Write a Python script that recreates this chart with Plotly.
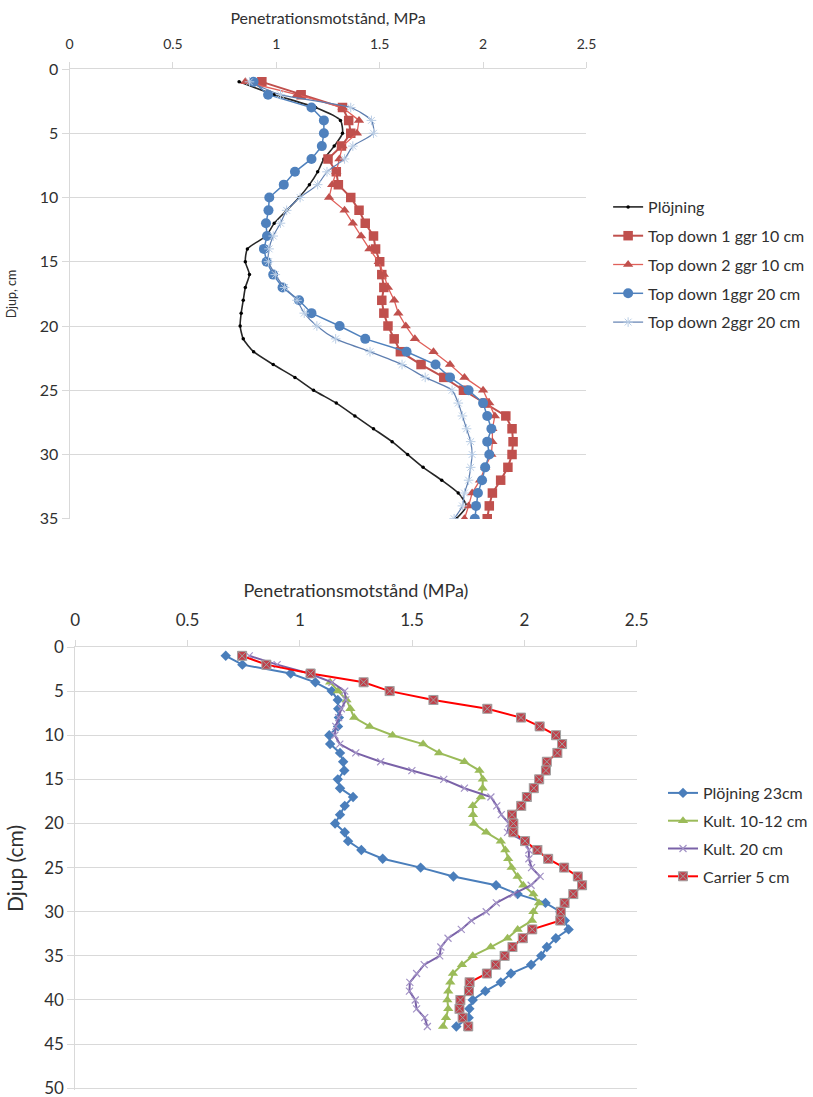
import plotly.graph_objects as go

# ---------- Top chart data ----------
depth_top = list(range(1, 36))
plojning = [0.82, 0.99, 1.19, 1.31, 1.32, 1.28, 1.23, 1.20, 1.16, 1.11, 1.05, 0.99, 0.95, 0.86, 0.85,
            0.87, 0.85, 0.84, 0.83, 0.825, 0.84, 0.89, 0.985, 1.09, 1.18, 1.29, 1.38, 1.47, 1.56, 1.635,
            1.71, 1.80, 1.88, 1.92, 1.87]
td1_10 = [0.93, 1.12, 1.32, 1.35, 1.36, 1.315, 1.25, 1.29, 1.30, 1.36, 1.40, 1.43, 1.47, 1.48, 1.50,
          1.51, 1.52, 1.51, 1.52, 1.54, 1.57, 1.60, 1.70, 1.81, 1.905, 2.01, 2.11, 2.14, 2.145, 2.14,
          2.12, 2.085, 2.045, 2.03, 2.02]
td2_10 = [0.85, 1.10, 1.32, 1.40, 1.39, 1.32, 1.305, 1.29, 1.27, 1.255, 1.33, 1.37, 1.41, 1.45, 1.495,
          1.52, 1.54, 1.57, 1.59, 1.626, 1.67, 1.76, 1.84, 1.91, 2.00, 2.03, 2.057, 2.045, 2.045, 2.04,
          2.01, 1.985, 1.947, 1.93, 1.91]
td1_20 = [0.89, 0.96, 1.17, 1.23, 1.23, 1.22, 1.17, 1.09, 1.036, 0.966, 0.962, 0.95, 0.955, 0.94, 0.953,
          0.985, 1.03, 1.11, 1.17, 1.306, 1.43, 1.63, 1.77, 1.84, 1.93, 2.00, 2.02, 2.04, 2.02, 2.03,
          2.01, 1.995, 1.975, 1.966, 1.96]
td2_20 = [0.87, 1.02, 1.36, 1.46, 1.47, 1.37, 1.33, 1.245, 1.20, 1.115, 1.05, 1.02, 0.985, 0.965, 0.962,
          0.995, 1.04, 1.10, 1.135, 1.196, 1.287, 1.453, 1.608, 1.72, 1.85, 1.88, 1.90, 1.92, 1.94, 1.947,
          1.94, 1.93, 1.91, 1.90, 1.86]

# ---------- Bottom chart data ----------
depth_bot = list(range(1, 44))
plojning23 = [0.67, 0.744, 0.959, 1.069, 1.142, 1.169, 1.171, 1.174, 1.17, 1.131, 1.135, 1.179, 1.193,
              1.198, 1.169, 1.179, 1.237, 1.20, 1.179, 1.157, 1.20, 1.215, 1.274, 1.369, 1.538, 1.684,
              1.874, 1.97, 2.094, 2.16, 2.18, 2.197, 2.14, 2.10, 2.075, 2.03, 1.94, 1.895, 1.826, 1.77,
              1.755, 1.752, 1.697]
depth_kult10 = list(range(4, 44))
kult10 = [1.135, 1.17, 1.208, 1.225, 1.242, 1.311, 1.413, 1.549, 1.62, 1.733, 1.80, 1.815, 1.814, 1.806,
          1.77, 1.771, 1.775, 1.83, 1.895, 1.915, 1.928, 1.943, 1.97, 1.995, 2.04, 2.065, 2.04, 2.034,
          1.97, 1.925, 1.85, 1.77, 1.722, 1.682, 1.67, 1.661, 1.657, 1.661, 1.651, 1.638]
kult20 = [0.775, 0.899, 1.042, 1.143, 1.20, 1.205, 1.185, 1.173, 1.16, 1.156, 1.178, 1.249, 1.36, 1.499,
          1.641, 1.733, 1.851, 1.877, 1.897, 1.932, 1.925, 2.0, 2.02, 2.02, 2.032, 2.07, 2.03, 1.95,
          1.875, 1.83, 1.764, 1.719, 1.66, 1.628, 1.623, 1.554, 1.52, 1.49, 1.488, 1.514, 1.52, 1.556,
          1.568]
carrier5 = [0.743, 0.851, 1.048, 1.284, 1.40, 1.595, 1.835, 1.985, 2.068, 2.141, 2.168, 2.147, 2.10,
            2.096, 2.066, 2.042, 2.011, 1.986, 1.945, 1.951, 1.951, 2.003, 2.058, 2.106, 2.177, 2.238,
            2.257, 2.218, 2.179, 2.162, 2.16, 2.035, 1.993, 1.947, 1.912, 1.872, 1.833, 1.756, 1.753,
            1.715, 1.711, 1.725, 1.75]

top_yticks = [0, 5, 10, 15, 20, 25, 30, 35]
bot_yticks = [0, 5, 10, 15, 20, 25, 30, 35, 40, 45, 50]
xticks = [0, 0.5, 1, 1.5, 2, 2.5]

FONT = "Lato"
TXT = "#303030"
GRID = "#d9d9d9"

fig = go.Figure()

# top chart traces
fig.add_trace(go.Scatter(x=plojning, y=depth_top, name="Plöjning", mode="lines+markers",
                         line=dict(color="#262626", width=1.6, shape="spline", smoothing=0.6),
                         marker=dict(symbol="circle", size=3.5, color="#000000"),
                         xaxis="x", yaxis="y", legend="legend", legendgroup="a1"))
fig.add_trace(go.Scatter(x=td1_10, y=depth_top, name="Top down 1 ggr 10 cm", mode="lines+markers",
                         line=dict(color="#c0504d", width=2),
                         marker=dict(symbol="square", size=9.5, color="#c0504d"),
                         xaxis="x", yaxis="y", legend="legend", legendgroup="a2"))
fig.add_trace(go.Scatter(x=td2_10, y=depth_top, name="Top down 2 ggr 10 cm", mode="lines+markers",
                         line=dict(color="#e0605a", width=1.3),
                         marker=dict(symbol="triangle-up", size=9, color="#c0504d"),
                         xaxis="x", yaxis="y", legend="legend", legendgroup="a3"))
fig.add_trace(go.Scatter(x=td1_20, y=depth_top, name="Top down 1ggr 20 cm", mode="lines+markers",
                         line=dict(color="#4f81bd", width=1.5),
                         marker=dict(symbol="circle", size=10, color="#4f81bd"),
                         xaxis="x", yaxis="y", legend="legend", legendgroup="a4"))
fig.add_trace(go.Scatter(x=td2_20, y=depth_top, name="Top down 2ggr 20 cm", mode="lines+markers",
                         line=dict(color="#5f7fb0", width=1.2, shape="spline", smoothing=0.6),
                         marker=dict(symbol="asterisk-open", size=8, color="#b9cde5",
                                     line=dict(width=1, color="#b9cde5")),
                         xaxis="x", yaxis="y", legend="legend", legendgroup="a5"))

# bottom chart traces
fig.add_trace(go.Scatter(x=plojning23, y=depth_bot, name="Plöjning 23cm", mode="lines+markers",
                         line=dict(color="#4a7ebb", width=2),
                         marker=dict(symbol="diamond", size=8, color="#4a7ebb"),
                         xaxis="x2", yaxis="y2", legend="legend2", legendgroup="b1"))
fig.add_trace(go.Scatter(x=kult10, y=depth_kult10, name="Kult. 10-12 cm", mode="lines+markers",
                         line=dict(color="#9bbb59", width=2),
                         marker=dict(symbol="triangle-up", size=9, color="#9bbb59"),
                         xaxis="x2", yaxis="y2", legend="legend2", legendgroup="b2"))
fig.add_trace(go.Scatter(x=kult20, y=depth_bot, name="Kult. 20 cm", mode="lines+markers",
                         line=dict(color="#7a62a8", width=2),
                         marker=dict(symbol="x-thin-open", size=7, color="#a393c6",
                                     line=dict(width=1.2, color="#a393c6")),
                         xaxis="x2", yaxis="y2", legend="legend2", legendgroup="b3"))
fig.add_trace(go.Scatter(x=carrier5, y=depth_bot, name="Carrier 5 cm", mode="lines+markers",
                         line=dict(color="#ff0000", width=2),
                         marker=dict(symbol="square-x", size=9, color="#c0404a",
                                     line=dict(width=1, color="#a0a0a0")),
                         xaxis="x2", yaxis="y2", legend="legend2", legendgroup="b4"))

W, H = 813, 1097

def px_x(v):
    return v / W

def px_y(v):
    return 1 - v / H

xcommon = dict(side="top", range=[0, 2.5], tickmode="array", tickvals=xticks, showgrid=False,
               zeroline=False, showline=True, linecolor=GRID, linewidth=1, ticks="outside",
               ticklen=6, tickcolor=GRID, automargin=False, ticklabeloverflow="allow")
ycommon = dict(tickmode="array", showgrid=True, gridcolor=GRID, gridwidth=1, zeroline=False,
               showline=True, linecolor=GRID, linewidth=1, ticks="outside", ticklen=7,
               tickcolor=GRID, automargin=False, ticklabeloverflow="allow")

fig.update_layout(
    width=W, height=H, margin=dict(l=0, r=0, t=0, b=0),
    paper_bgcolor="white", plot_bgcolor="white",
    font=dict(family=FONT, color=TXT),
    xaxis=dict(**xcommon, domain=[px_x(70.7), px_x(596)], anchor="y",
               tickfont=dict(family=FONT, color=TXT, size=14), ticklabelstandoff=7,
               title=dict(text="Penetrationsmotstånd, MPa", font=dict(size=16, family=FONT, color=TXT), standoff=6)),
    yaxis=dict(**ycommon, tickvals=top_yticks, domain=[px_y(519), px_y(69)], range=[35.02, 0], anchor="x",
               tickfont=dict(family=FONT, color=TXT, size=16),
               title=dict(text="Djup, cm", font=dict(size=12.5, family=FONT, color=TXT), standoff=20)),
    xaxis2=dict(**xcommon, domain=[px_x(76.5), px_x(647)], anchor="y2",
                tickfont=dict(family=FONT, color=TXT, size=17), ticklabelstandoff=7,
                title=dict(text="Penetrationsmotstånd (MPa)", font=dict(size=18, family=FONT, color=TXT), standoff=6)),
    yaxis2=dict(**ycommon, tickvals=bot_yticks, domain=[px_y(1090), px_y(647)], range=[50.2, 0], anchor="x2",
                tickfont=dict(family=FONT, color=TXT, size=17),
                title=dict(text="Djup (cm)", font=dict(size=21, family=FONT, color=TXT), standoff=14)),
    legend=dict(x=px_x(618), y=px_y(190), xanchor="left", yanchor="top",
                font=dict(size=16, family=FONT, color=TXT), traceorder="grouped",
                tracegroupgap=5, bgcolor="rgba(0,0,0,0)"),
    legend2=dict(x=px_x(674), y=px_y(776), xanchor="left", yanchor="top",
                 font=dict(size=16, family=FONT, color=TXT), traceorder="grouped",
                 tracegroupgap=4, bgcolor="rgba(0,0,0,0)"),
)

fig.write_html("out.html")
